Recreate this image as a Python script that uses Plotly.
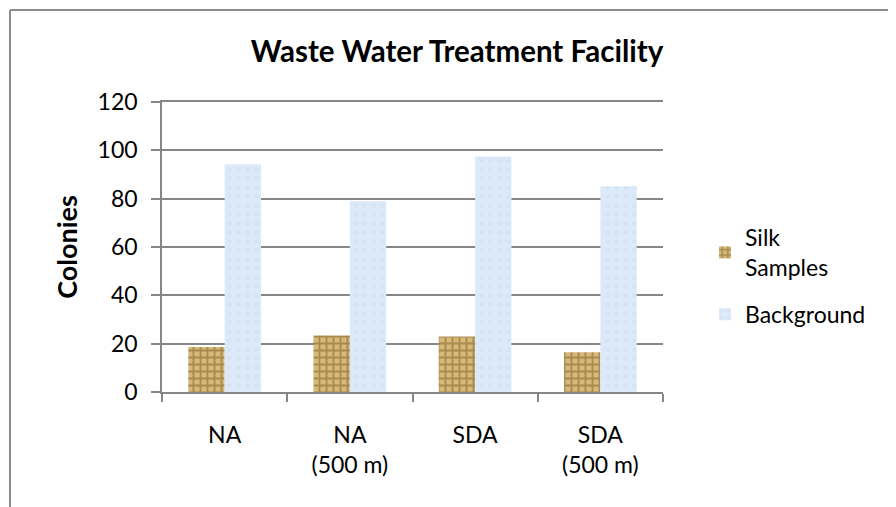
import plotly.graph_objects as go

categories = ["NA", "NA<br>(500 m)", "SDA", "SDA<br>(500 m)"]
silk_samples = [18.6, 23.4, 23.0, 16.4]
background = [94.2, 78.9, 97.5, 85.1]
y_ticks = [0, 20, 40, 60, 80, 100, 120]

FONT = "Lato"
GRID = "#868686"

# page has an 8px body margin, so the figure is drawn at (8, 8)
W, H = 896, 507
L, T = 154, 94
PW, PH = 501, 290
R, B = W - L - PW, H - T - PH

fig = go.Figure()
fig.add_trace(go.Bar(
    x=categories, y=silk_samples, name="Silk<br>Samples", legendgroup="a",
    marker=dict(color="#d2b272", line=dict(width=0),
                pattern=dict(shape="+", fgcolor="#7a5a28", bgcolor="#d6b878",
                             size=7, solidity=0.45)),
))
fig.add_trace(go.Bar(
    x=categories, y=background, name="Background", legendgroup="b",
    marker=dict(color="#dae7f6", line=dict(width=0),
                pattern=dict(shape=".", fgcolor="#cfdef0", bgcolor="#dce9f8",
                             size=9, solidity=0.2)),
))

fig.update_layout(
    width=W, height=H,
    margin=dict(l=L, r=R, t=T, b=B, autoexpand=False),
    paper_bgcolor="white", plot_bgcolor="white",
    barmode="group", bargap=0.42, bargroupgap=0,
    font=dict(family=FONT, size=23, color="black"),
    title=dict(text="<b>Waste Water Treatment Facility</b>", x=449 / W, xanchor="center",
               y=1 - 44 / H, yanchor="middle",
               font=dict(family=FONT, size=29.5, color="black")),
    legend=dict(x=1.0 + 42 / PW, xanchor="left", y=0.40, yanchor="middle",
                font=dict(family=FONT, size=23), traceorder="grouped",
                tracegroupgap=14, itemwidth=30, bgcolor="rgba(0,0,0,0)"),
    showlegend=True,
)
fig.update_xaxes(
    type="category", showgrid=False, showline=True, linecolor=GRID, linewidth=1.5,
    mirror=True,
    ticks="outside", tickson="boundaries", ticklen=8, tickcolor=GRID, tickwidth=1.5,
    ticklabelstandoff=22, tickfont=dict(family=FONT, size=23),
)
fig.update_yaxes(
    range=[0, 120], tickvals=y_ticks, showgrid=True, gridcolor=GRID, gridwidth=1.5,
    showline=True, linecolor=GRID, linewidth=1.5, zeroline=False,
    ticks="outside", ticklen=9, tickcolor=GRID, tickwidth=1.5,
    ticklabelstandoff=9, tickfont=dict(family=FONT, size=23),
    title=dict(text="<b>Colonies</b>", standoff=12, font=dict(family=FONT, size=27)),
)
# outer chart-area border: only its top and left edges fall inside the window
bx0 = (2 - L) / PW
by1 = 1 + (T - 2) / PH
fig.add_shape(type="line", xref="paper", yref="paper",
              x0=bx0, x1=1 + (R + 40) / PW, y0=by1, y1=by1,
              line=dict(color="#8c8c8c", width=2), layer="below")
fig.add_shape(type="line", xref="paper", yref="paper",
              x0=bx0, x1=bx0, y0=by1, y1=-(B + 40) / PH,
              line=dict(color="#8c8c8c", width=2), layer="below")

fig.write_html("out.html")
